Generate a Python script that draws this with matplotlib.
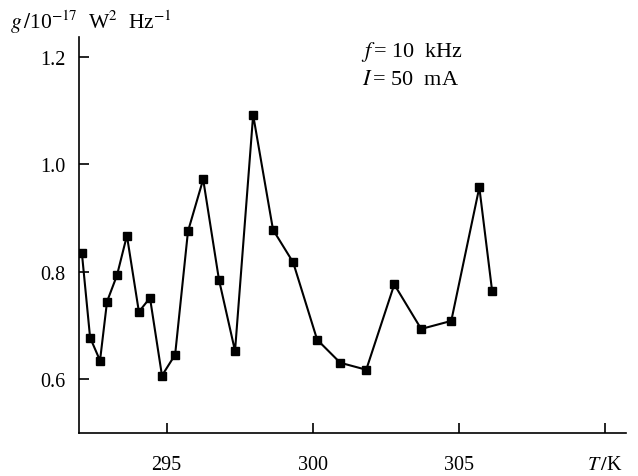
import matplotlib.pyplot as plt

plt.rcParams['font.family'] = ['Liberation Serif', 'DejaVu Serif']
plt.rcParams['mathtext.fontset'] = 'stix'

# temperature T (K) and g (10^-17 W^2 Hz^-1)
T = [292.1, 292.38, 292.72, 292.96, 293.30, 293.64, 294.05, 294.43, 294.84, 295.29,
     295.73, 296.25, 296.79, 297.34, 297.96, 298.64, 299.33, 300.15, 300.94, 301.83,
     302.79, 303.71, 304.74, 305.70, 306.14]
g = [0.834, 0.677, 0.634, 0.744, 0.793, 0.867, 0.725, 0.751, 0.606, 0.645,
     0.875, 0.972, 0.785, 0.652, 1.092, 0.878, 0.817, 0.673, 0.630, 0.617,
     0.776, 0.693, 0.708, 0.957, 0.763]

xticks = [295, 300, 305, 310]
xticklabels = ['295', '300', '305', '$T\\,/$K']
yticks = [0.6, 0.8, 1.0, 1.2]
yticklabels = ['0.6', '0.8', '1.0', '1.2']

fig = plt.figure(figsize=(6.38, 4.77), dpi=100)
ax = fig.add_axes([0.1238, 0.0901, 0.9812 - 0.1238, 0.920 - 0.0901])

ax.plot(T, g, color='black', lw=1.5, marker='s', markersize=6)

ax.set_xlim(292, 310.72)
ax.set_ylim(0.499, 1.237)
ax.set_xticks(xticks)
ax.set_xticklabels(xticklabels)
ax.set_yticks(yticks)
ax.set_yticklabels(yticklabels)

for s in ['top', 'right']:
    ax.spines[s].set_visible(False)
for s in ['left', 'bottom']:
    ax.spines[s].set_linewidth(1.2)

ax.tick_params(axis='x', direction='in', length=7, width=1.2, pad=16, labelsize=14.5)
ax.tick_params(axis='y', direction='in', length=7, width=1.2, pad=10, labelsize=14.5)

fig.text(10 / 638, 1 - 29 / 477, r'$g\,/$10$^{-17}$  W$^{2}$  Hz$^{-1}$',
         fontsize=15.5, va='baseline')
fig.text(361 / 638, 1 - 57 / 477, r'$f\,$= 10  kHz', fontsize=16, va='baseline')
fig.text(362 / 638, 1 - 85 / 477, r'$I\,$= 50  mA', fontsize=16, va='baseline')

plt.savefig('out.png', dpi=100)
